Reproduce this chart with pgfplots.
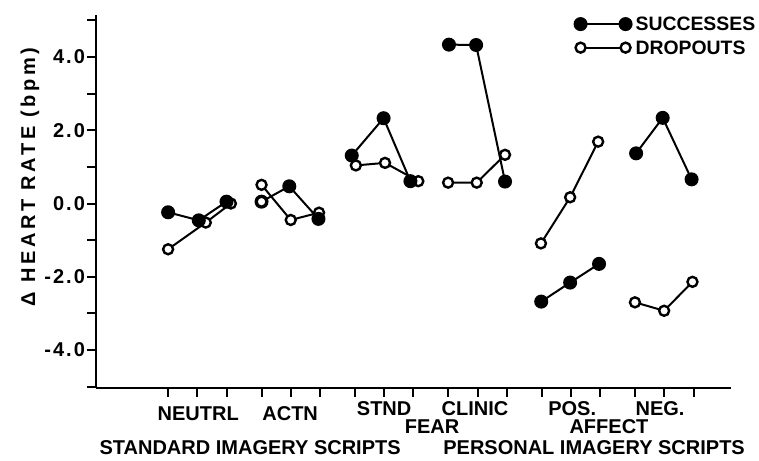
\documentclass[border=0pt]{standalone}
\usepackage{pgfplots}
\pgfplotsset{compat=1.18}
\usepackage{pgfplotstable}
\usepackage{fontspec}
\setmainfont{Liberation Sans}
\newfontfamily\widefont{Liberation Sans}[LetterSpace=18]
\newfontfamily\tickfont{Liberation Sans}[LetterSpace=10]

% Change in heart rate (bpm) for each script; groups of three trials,
% separated by nan rows so that each group is its own line.
\pgfplotstableread{
x y
0.00 -0.24
1.05 -0.46
2.00 0.05
nan nan
3.20 0.05
4.15 0.47
5.15 -0.42
nan nan
6.29 1.31
7.38 2.33
8.30 0.61
nan nan
9.62 4.34
10.55 4.33
11.54 0.60
nan nan
12.78 -2.68
13.77 -2.16
14.76 -1.65
nan nan
16.03 1.37
16.94 2.34
17.93 0.66
}\successes

\pgfplotstableread{
x y
0.00 -1.25
1.29 -0.52
2.15 0.00
nan nan
3.20 0.51
4.20 -0.45
5.17 -0.25
nan nan
6.43 1.04
7.43 1.11
8.57 0.61
nan nan
9.59 0.57
10.57 0.57
11.54 1.33
nan nan
12.77 -1.09
13.77 0.17
14.73 1.69
nan nan
15.99 -2.70
16.99 -2.93
17.96 -2.14
}\dropouts

\begin{document}
\begin{tikzpicture}[font=\bfseries\fontsize{10}{12}\selectfont]
\useasboundingbox (0,0) rectangle (379.5pt,230pt);
\begin{axis}[
  at={(48pt,36pt)}, anchor=south west,
  scale only axis, width=317.5pt, height=186.5pt,
  xmin=-2.47, xmax=19.28, ymin=-5.04, ymax=5.15,
  axis x line*=bottom, axis y line*=left,
  axis line style={line width=1pt},
  every tick/.style={black, line width=1pt},
  tick align=outside,
  major tick length=4.5pt,
  minor tick length=4.5pt,
  xtick={0,1,2,3.2,4.2,5.2,6.4,7.4,8.4,9.6,10.6,11.6,12.8,13.8,14.8,16,17,18},
  xticklabels={},
  ytick={-4,-2,0,2,4},
  minor ytick={-5,-3,-1,1,3,5},
  /pgf/number format/fixed,
  /pgf/number format/fixed zerofill,
  /pgf/number format/precision=1,
  /pgf/number format/assume math mode=true,
  yticklabel style={font=\tickfont\bfseries\fontsize{10}{12}\selectfont, xshift=2.5pt},
  ylabel={Δ HEART RATE (bpm)},
  every axis y label/.style={at={(axis description cs:-0.104,0.566)}, rotate=90, anchor=center, font=\widefont\bfseries\fontsize{10}{12}\selectfont},
  unbounded coords=jump,
  clip=false,
  legend style={at={(rel axis cs:0.753,0.944)}, anchor=west, draw=none, fill=none,
    inner sep=0pt, row sep=1pt, nodes={inner sep=2pt, text depth=0pt},
    font=\bfseries\fontsize{9.7}{12}\selectfont},
  legend cell align=left,
  legend image code/.code={\draw[#1] plot coordinates {(0pt,0pt) (22.5pt,0pt)};},
]
\addlegendimage{black, line width=1pt, mark=*, mark size=3pt, mark options={fill=black, draw=black}}
\addlegendentry{SUCCESSES}
\addlegendimage{black, line width=1pt, mark=*, mark size=2.5pt, mark options={fill=white, draw=black, line width=1.2pt}}
\addlegendentry{DROPOUTS}

\addplot[black, line width=1pt, mark=*, mark size=2.5pt,
  mark options={fill=white, draw=black, line width=1.2pt}, forget plot]
  table[x=x, y=y] {\dropouts};
\addplot[black, line width=1pt, mark=*, mark size=3pt,
  mark options={fill=black, draw=black}, forget plot]
  table[x=x, y=y] {\successes};
% first ACTN point of the successes is printed hollow
\addplot[only marks, mark=*, mark size=2.5pt,
  mark options={fill=white, draw=black, line width=1.2pt}, forget plot]
  coordinates {(3.20,0.05)};

% category labels under the axis
\node[anchor=base, yshift=-16.3pt] at (axis cs:1.03,-5.04) {NEUTRL};
\node[anchor=base, yshift=-16.3pt] at (axis cs:4.18,-5.04) {ACTN};
\node[anchor=base, yshift=-13.8pt] at (axis cs:7.40,-5.04) {STND};
\node[anchor=base, yshift=-13.8pt] at (axis cs:10.51,-5.04) {CLINIC};
\node[anchor=base, yshift=-22.5pt] at (axis cs:9.04,-5.04) {FEAR};
\node[anchor=base, yshift=-13.8pt] at (axis cs:13.84,-5.04) {POS.};
\node[anchor=base, yshift=-13.8pt] at (axis cs:16.85,-5.04) {NEG.};
\node[anchor=base, yshift=-22.5pt] at (axis cs:15.10,-5.04) {AFFECT};
\node[anchor=base, yshift=-33pt] at (axis cs:2.81,-5.04) {STANDARD IMAGERY SCRIPTS};
\node[anchor=base, yshift=-33pt] at (axis cs:14.59,-5.04) {PERSONAL IMAGERY SCRIPTS};
\end{axis}
\end{tikzpicture}
\end{document}
